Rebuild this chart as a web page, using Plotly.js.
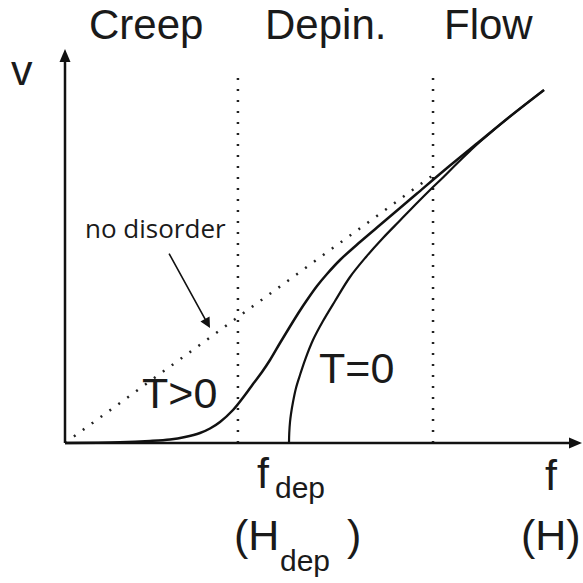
<!DOCTYPE html>
<html>
<head>
<meta charset="utf-8">
<script src="https://cdn.plot.ly/plotly-3.0.1.min.js"></script>
<style>
  body { margin: 0; background: #fff; }
  #plot { width: 583px; height: 583px; }
</style>
</head>
<body>
<div id="plot"></div>
<script>
// force f in units of f_dep, velocity v in the same units

var tPosF = [0, 0.2455, 0.3795, 0.4688, 0.5357, 0.6027, 0.6473, 0.6920, 0.75, 0.8036, 0.8393, 0.8795, 0.9152,
  0.9598, 1.0045, 1.0491, 1.0804, 1.125, 1.1696, 1.2277, 1.3170, 1.3929, 1.4955, 1.5714, 1.7188, 1.8527, 1.9866, 2.1384];
var tPosV = [0, 0.0031, 0.0089, 0.0156, 0.0268, 0.0446, 0.0647, 0.0938, 0.1473, 0.2143, 0.2634, 0.3170, 0.3705,
  0.4464, 0.5201, 0.5915, 0.6384, 0.7009, 0.7545, 0.8170, 0.8973, 0.9621, 1.0491, 1.1138, 1.2388, 1.3482, 1.4576, 1.5759];

var tZeroF = [1.0, 1.0011, 1.0045, 1.0089, 1.0179, 1.0313, 1.0491, 1.0714, 1.1071, 1.1518, 1.2054, 1.2723,
  1.3438, 1.4196, 1.4955, 1.5714, 1.6295, 1.6875, 1.75, 1.8080, 1.8527, 1.9866, 2.1384];
var tZeroV = [0, 0.0446, 0.0938, 0.1295, 0.1830, 0.2455, 0.3036, 0.3705, 0.4598, 0.5446, 0.6339, 0.7411,
  0.8304, 0.9152, 0.9933, 1.0714, 1.1295, 1.1853, 1.2478, 1.3036, 1.3451, 1.4576, 1.5759];

var noDisorderF = [0, 1.643];
var noDisorderV = [0, 1.196];

var regionBounds = [0.772, 1.643];
var boundTop = 1.638;

var regionNames = ["Creep", "Depin.", "Flow"];

var fMax = 2.308;
var vMax = 1.759;

// pixel -> data / paper helpers, used for text placement only
function X(px) { return (px - 65) / 224; }
function Y(py) { return (443 - py) / 224; }
function PX(px) { return (px - 55) / 528; }
function PY(py) { return (453 - py) / 413; }

document.addEventListener("DOMContentLoaded", function() {
  var plotDiv = document.getElementById("plot");
  var dots = "2px,9px";
  var ink = "#111";

  // arrow head length / half width, in axis units (224 px per unit)
  var headLen = 13 / 224;
  var headHalf = 5.5 / 224;

  var traces = [];

  regionBounds.forEach(function(b) {
    traces.push({
      x: [b, b], y: [0, boundTop],
      mode: "lines", line: { color: "#222", width: 2.5, dash: dots },
      hoverinfo: "skip"
    });
  });

  traces.push({
    x: noDisorderF, y: noDisorderV,
    mode: "lines", line: { color: "#222", width: 2.5, dash: dots },
    hoverinfo: "skip"
  });

  traces.push({
    x: tPosF, y: tPosV,
    mode: "lines", line: { color: ink, width: 2.5, shape: "spline", smoothing: 1 },
    hoverinfo: "skip"
  });

  traces.push({
    x: tZeroF, y: tZeroV,
    mode: "lines", line: { color: ink, width: 2.2, shape: "spline", smoothing: 1 },
    hoverinfo: "skip"
  });

  // axis lines
  traces.push({
    x: [0, fMax - headLen / 2], y: [0, 0],
    mode: "lines", line: { color: ink, width: 2.5 }, hoverinfo: "skip"
  });
  traces.push({
    x: [0, 0], y: [0, vMax - headLen / 2],
    mode: "lines", line: { color: ink, width: 2.5 }, hoverinfo: "skip"
  });

  function head(path) {
    return { type: "path", xref: "x", yref: "y", path: path, fillcolor: ink, line: { width: 0 } };
  }
  var shapes = [
    head("M" + fMax + ",0 L" + (fMax - headLen) + "," + headHalf + " L" + (fMax - headLen) + "," + (-headHalf) + " Z"),
    head("M0," + vMax + " L" + (-headHalf) + "," + (vMax - headLen) + " L" + headHalf + "," + (vMax - headLen) + " Z")
  ];

  var big = { family: "Liberation Sans, Arial, sans-serif", size: 43, color: "#1a1a1a" };
  var sub = { family: "Liberation Sans, Arial, sans-serif", size: 30, color: "#1a1a1a" };
  var top = { family: "Liberation Sans, Arial, sans-serif", size: 42, color: "#1a1a1a" };

  function label(text, px, py, font, anchor) {
    return {
      text: text, x: PX(px), y: PY(py), xref: "paper", yref: "paper",
      showarrow: false, xanchor: anchor || "center", yanchor: "middle", font: font || big
    };
  }

  var annotations = [
    label(regionNames[0], 146, 24, top),
    label(regionNames[1], 325, 24, top),
    label(regionNames[2], 488, 24, top),
    label("v", 22, 70),
    label("T&gt;0", 179, 393),
    label("T=0", 356, 368),
    {
      text: "no disorder", x: X(210), y: Y(328), xref: "x", yref: "y",
      ax: -55, ay: -100, showarrow: true, arrowhead: 2, arrowsize: 1.3, arrowwidth: 1.6,
      arrowcolor: ink, startstandoff: 7,
      font: { family: "Open Sans, sans-serif", size: 26, color: "#1a1a1a" }
    },
    label("f", 272, 473, big, "right"),
    label("dep", 273, 487, sub, "left"),
    label("(H", 281, 535, big, "right"),
    label("dep", 278, 560, sub, "left"),
    label(")", 345, 535, big, "left"),
    label("f", 551, 475),
    label("(H)", 551, 535)
  ];

  var layout = {
    width: 583, height: 583,
    margin: { l: 55, r: 0, t: 40, b: 130, pad: 0 },
    paper_bgcolor: "#fff", plot_bgcolor: "#fff",
    showlegend: false,
    xaxis: { range: [X(55), X(583)], visible: false, fixedrange: true },
    yaxis: { range: [Y(453), Y(40)], visible: false, fixedrange: true },
    shapes: shapes,
    annotations: annotations
  };

  Plotly.newPlot(plotDiv, traces, layout, { displayModeBar: false, staticPlot: true });
});
</script>
</body>
</html>
